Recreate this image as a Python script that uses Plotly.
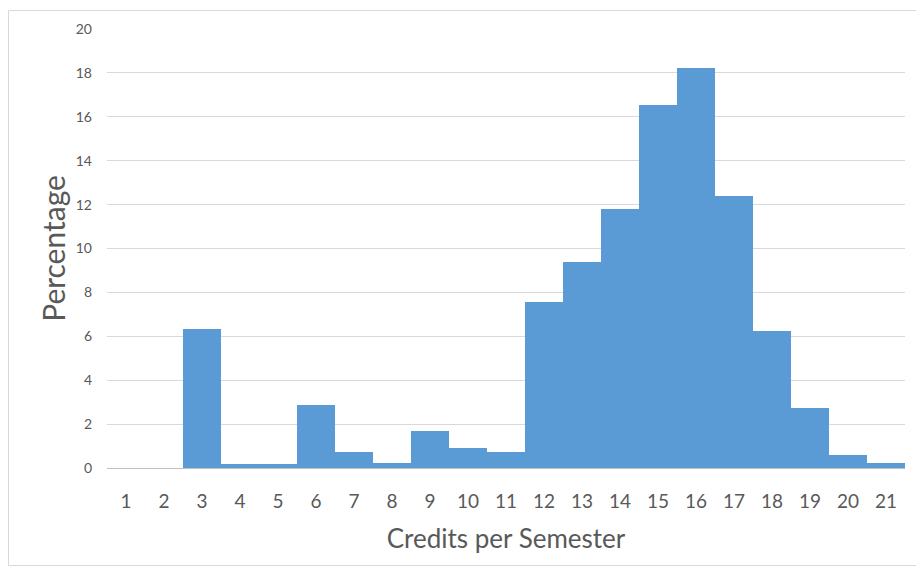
import plotly.graph_objects as go

# Credits per semester (categories) and percentage of students
credits = [str(c) for c in range(1, 22)]
percentage = [0, 0, 6.33, 0.19, 0.19, 2.87, 0.72, 0.22, 1.68, 0.93, 0.72,
              7.57, 9.38, 11.81, 16.56, 18.23, 12.38, 6.22, 2.75, 0.59, 0.24]
y_ticks = list(range(0, 21, 2))

# the page body adds an 8px offset, so the figure is sized to fit
W, H = 916, 563
L, R, T, B = 99, 19, 19, 103
pw, ph = W - L - R, H - T - B


def px_x(x):
    return (x - L) / pw


def px_y(y):
    return (H - B - y) / ph


fig = go.Figure()
fig.add_trace(go.Bar(
    x=credits,
    y=percentage,
    marker=dict(color="#5B9BD5", line=dict(width=0)),
    hoverinfo="x+y",
))

# outer chart-area border
fig.add_shape(
    type="rect", xref="paper", yref="paper",
    x0=px_x(0.5), x1=px_x(912), y0=px_y(558), y1=px_y(0.5),
    line=dict(color="#D9D9D9", width=1), layer="below",
)

fig.update_layout(
    width=W, height=H,
    margin=dict(l=L, r=R, t=T, b=B),
    paper_bgcolor="white",
    plot_bgcolor="white",
    bargap=0,
    showlegend=False,
    font=dict(family="Lato, Open Sans, sans-serif", color="#595959"),
    xaxis=dict(
        title=dict(text="Credits per Semester", font=dict(size=26, color="#595959"), standoff=18),
        tickfont=dict(size=19, color="#595959"),
        ticks="", showgrid=False, zeroline=False,
        showline=False,
        ticklabelstandoff=20,
    ),
    yaxis=dict(
        title=dict(text="Percentage", font=dict(size=30, color="#595959"), standoff=1),
        range=[0, 20],
        tickvals=y_ticks,
        tickfont=dict(size=14, color="#595959"),
        showgrid=True, gridcolor="#D9D9D9", gridwidth=1,
        zeroline=True, zerolinecolor="#BFBFBF", zerolinewidth=1,
        ticks="", ticklabelstandoff=14,
    ),
)

fig.write_html("out.html")
